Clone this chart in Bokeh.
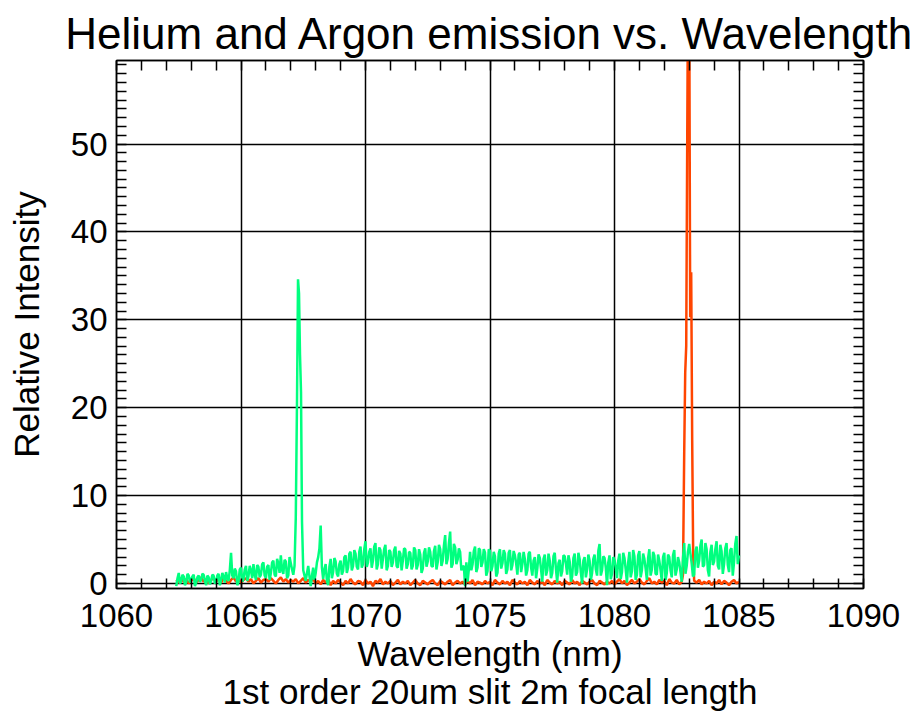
import numpy as np
from bokeh.plotting import figure
from bokeh.models import LinearAxis, FixedTicker, Range1d, Title
from bokeh.embed import file_html
from bokeh.resources import INLINE

FONT = "Liberation Sans"

# ---------------- data ----------------
x_ticks = [1060, 1065, 1070, 1075, 1080, 1085, 1090]
x_minor = [1060 + i for i in range(31)]
y_ticks = [0, 10, 20, 30, 40, 50]
y_minor = list(range(0, 60))
sample_step = 0.1  # nm

# Argon (green) spectrum: samples on the 0.1 nm grid ...
argon_a_start = 1062.4
argon_a = [-0.3, 1.2, 0.3, 0.8, 0.2, 0.9,
           0.5, 1.0, 0.1, 0.9, 0.4, 1.0, -0.2, 0.7, 0.3, 0.9,
           0.2, 1.1, 0.4, 0.8, 1.3, 0.3, 3.5, 0.6, 1.4, 0.2,
           1.8, 0.5, 2.0, 0.8, 1.5, 2.2, 0.4, 1.9, 1.0, 2.4,
           0.6, 2.1, 1.2, 2.6, 0.8, 2.3, 3.2, 1.1, 2.5, 0.9,
           2.3, 1.0]
# ... and the samples half-way between them
argon_a_mid = [0.6, 0.0, 1.0, -0.2, 1.1, 0.1,
               0.8, -0.3, 0.7, 0.2, 1.1, 0.3, 0.9, -0.1, 1.0, 0.0,
               0.9, -0.2, 1.2, 0.1, 0.6, 1.5, 0.9, 1.7, -0.2, 1.6,
               0.2, 1.6, 0.3, 2.0, 0.6, 1.0, 2.1, 0.7, 2.2, 0.9,
               1.9, 0.4, 2.4, 1.0, 2.8, 1.2, 1.5, 2.7, 0.6, 3.0,
               1.6]
argon_peak_wl = [1067.15, 1067.2, 1067.25, 1067.29, 1067.33, 1067.37, 1067.41, 1067.45, 1067.5]
argon_peak = [2.0, 7.5, 21.0, 34.6, 33.0, 26.0, 21.8, 7.0, 1.5]
argon_b_start = 1067.6
argon_b = [0.3, 2.0, -0.3, 1.8,
           1.2, 3.0, 6.6, 0.5, 2.2, -0.2, 2.8, 1.3, 2.5, 0.8,
           2.6, 1.4, 3.2, 1.8, 3.6, 2.0, 3.4, 1.6, 4.2, 2.2,
           4.8, 2.4, 4.0, 2.6, 4.6, 2.2, 3.8, 2.8, 4.4, 2.0,
           3.6, 2.4, 4.2, 1.8, 3.4, 2.6, 3.9, 2.2, 3.5, 2.0,
           3.8, 2.1, 3.3, 1.7, 4.0, 2.5, 3.6, 1.9, 4.3, 2.4,
           3.9, 2.6, 5.5, 2.8, 5.9, 2.2, 4.1, 2.7, 3.6, 1.9,
           -0.3, 0.2, 3.6, 2.2, 4.2, 1.8, 3.8, 2.4, 3.5, 1.4,
           3.7, 2.0, 3.1, 1.2, 3.9, 2.3, 3.4, 1.6, 3.8, 2.1,
           3.2, 1.0, 3.5, 2.2, 2.8, 1.5, 3.6, 0.9, 3.0, 1.7,
           2.9, 0.2, 3.3, 1.5, 2.6, 1.2, 3.5, 0.1, 2.7, 1.4,
           3.1, 1.0, 2.5, 0.8, 3.4, 1.3, 2.8, 0.0, 3.0, 1.6,
           2.6, 1.2, 3.3, 0.9, 4.5, 1.5, 2.9, -0.2, 3.2, 1.1,
           2.7, 0.6, 3.4, 1.3, 2.9, 0.1, 3.6, 1.4, 3.1, 1.0,
           3.7, 1.5, 2.8, 0.4, 3.9, 1.6, 3.2, 1.0, 2.6, 0.3,
           3.5, 1.2, 3.0, 0.7, 3.8, 1.6, 2.4, 0.2, 4.6, 2.0,
           4.5, 2.3, 1.0, 4.2, 2.6, 5.0, 2.1, 3.9, 0.8, 4.4,
           2.5, 4.8, 1.6, 3.7, 2.2, 4.6, 1.3, 4.0, 2.4, 5.4,
           3.2]
argon_b_mid = [1.2, 0.8, 0.9, 0.4,
               2.4, 4.0, 1.8, 1.6, 0.3, 1.9, 0.6, 2.9, 1.1, 2.2,
               1.0, 3.0, 1.2, 3.4, 1.5, 3.8, 1.9, 3.6, 1.8, 3.9,
               1.9, 3.6, 1.8, 4.2, 1.6, 4.1, 1.7, 3.9, 1.5, 3.8,
               1.9, 3.8, 2.0, 3.7, 1.5, 4.0, 1.7, 3.6, 1.6, 4.1,
               1.6, 3.9, 1.2, 3.5, 1.9, 4.1, 2.0, 3.7, 1.6, 4.4,
               2.0, 4.3, 2.2, 4.6, 1.8, 4.5, 2.2, 4.0, 1.5, 2.0,
               2.4, 1.6, 1.5, 3.7, 1.3, 4.0, 1.9, 3.9, 0.9, 3.9,
               1.4, 3.6, 0.8, 3.4, 1.7, 3.8, 1.1, 3.5, 1.5, 3.7,
               2.3, 3.3, 1.3, 3.6, 0.9, 3.4, 1.8, 2.6, 0.6, 3.3,
               1.6, 2.8, 0.9, 3.4, 0.6, 3.1, 1.6, 2.3, 0.8, 3.2,
               2.2, 3.2, 0.2, 2.9, 0.9, 3.5, 1.2, 2.6, 0.7, 3.3,
               0.4, 2.8, 1.6, 3.7, 0.9, 3.1, 1.8, 2.4, 0.5, 3.0,
               1.8, 2.6, 0.5, 3.5, 1.6, 2.4, 0.7, 3.8, 0.4, 3.2,
               0.7, 3.4, 1.7, 2.9, 0.9, 3.6, 1.1, 3.3, 1.5, 3.0,
               0.4, 3.3, 1.5, 3.2, 0.9, 3.0, 1.3, 2.9, 1.1, 3.6,
               3.4, 0.8, 3.7, 1.8, 4.3, 1.9, 4.6, 1.5, 3.6, 2.1,
               3.9, 2.0, 4.4, 1.1, 4.0, 2.1, 3.8, 0.9, 4.5, 2.2]

# Helium (red) spectrum
helium_a_start = 1062.4
helium_a = [0.4, 0.1, 0.6, 0.2, 0.5, 0.0,
            0.3, 0.6, 0.1, 0.4, 0.7, 0.2, 0.5, 0.0, 0.4, 0.6,
            0.2, 0.5, 0.1, 0.6, 0.3, 0.0, 0.4, 0.7, 0.2, 0.5,
            0.1, 0.4, 0.6, 0.2, 0.5, 0.0, 0.3, 0.6, 0.1, 0.4,
            0.5, 0.2, 0.6, 0.3, 0.0, 0.4, 0.7, 0.2, 0.5, 0.1,
            0.4, 0.2, 0.5, 0.0, 0.3, 0.6, 0.1, 0.4, 0.2, 0.5,
            0.0, 0.3, -0.1, 0.4, 0.1, 0.5, -0.2, 0.3, 0.0, 0.4,
            0.1, -0.2, 0.3, 0.0, 0.5, 0.1, -0.1, 0.3, 0.2, -0.2,
            0.4, 0.0, 0.2, -0.3, 0.3, 0.1, 0.5, -0.1, 0.2, 0.0,
            0.3, -0.2, 0.1, 0.4, -0.1, 0.2, 0.0, 0.3, -0.2, 0.1,
            0.4, 0.0, -0.2, 0.3, 0.1, -0.1, 0.2, 0.4, 0.0, -0.2,
            0.3, 0.1, -0.1, 0.2, 0.4, -0.2, 0.1, 0.3, 0.0, 0.2,
            -0.1, 0.3, 0.0, 0.4, -0.2, 0.2, 0.1, -0.1, 0.3, 0.0,
            0.2, -0.2, 0.4, 0.1, -0.1, 0.3, 0.0, 0.2, -0.2, 0.4,
            0.1, -0.1, 0.3, 0.0, 0.2, -0.2, 0.4, 0.1, -0.1, 0.3,
            0.0, 0.2, -0.2, 0.4, 0.1, -0.1, 0.3, 0.0, 0.2, -0.2,
            0.3, 0.1, -0.1, 0.4, 0.0, 0.2, -0.2, 0.3, 0.1, -0.1,
            0.2, 0.4, 0.0, -0.2, 0.3, 0.1, -0.1, 0.2, 0.0, 0.3,
            -0.1, 0.2, 0.5, 0.0, 0.3, -0.2, 0.1, 0.4, 0.0, 0.2,
            0.5, 0.1, -0.1, 0.3, 0.6, 0.0, 0.2, -0.1, 0.4, 0.1,
            0.3, -0.2, 0.5, 0.1, 0.0, 0.4, -0.1, 0.2]
helium_peak_wl = [1082.75, 1082.8, 1082.84, 1082.88, 1082.92, 1082.96, 1083.0,
                  1083.04, 1083.08, 1083.12, 1083.16, 1083.2]
helium_peak = [1.0, 15.0, 24.0, 27.0, 50.0, 72.0, 68.0, 30.3, 35.4, 16.3, 3.0, 0.3]
helium_b_start = 1083.3
helium_b = [0.1, 0.4, -0.1, 0.2, 0.0, 0.3, -0.2,
            0.2, 0.0, 0.4, -0.1, 0.3, 0.1, -0.2, 0.2, 0.4, 0.0,
            0.2]


def sampled(start, vals, step=sample_step):
    return list(start + step * np.arange(len(vals)))


def interleave(main, mid):
    out = []
    for i, v in enumerate(main):
        out.append(v)
        if i < len(mid):
            out.append(mid[i])
    return out


argon_a_all = interleave(argon_a, argon_a_mid)
argon_b_all = interleave(argon_b, argon_b_mid)
argon_wl = (sampled(argon_a_start, argon_a_all, sample_step / 2) + argon_peak_wl
            + sampled(argon_b_start, argon_b_all, sample_step / 2))
argon_int = argon_a_all + argon_peak + argon_b_all
helium_wl = sampled(helium_a_start, helium_a) + helium_peak_wl + sampled(helium_b_start, helium_b)
helium_int = helium_a + helium_peak + helium_b

# ---------------- figure ----------------
p = figure(width=920, height=713, output_backend="svg", toolbar_location=None,
           x_range=Range1d(1060, 1090), y_range=Range1d(-0.57, 59.5),
           min_border_left=116, min_border_right=57, min_border_top=60,
           min_border_bottom=125)
p.background_fill_color = "white"
p.border_fill_color = "white"
p.outline_line_color = "black"
p.outline_line_width = 1.5

p.title.text = "Helium and Argon emission vs. Wavelength"
p.title.text_font = FONT
p.title.text_font_size = "44px"
p.title.text_font_style = "normal"
p.title.text_color = "black"
p.title.align = "center"
p.title.standoff = 6

bx = p.xaxis[0]
ly = p.yaxis[0]
bx.ticker = FixedTicker(ticks=x_ticks, minor_ticks=x_minor)
ly.ticker = FixedTicker(ticks=y_ticks, minor_ticks=y_minor)
p.xgrid.ticker = FixedTicker(ticks=x_ticks)
p.ygrid.ticker = FixedTicker(ticks=y_ticks)
for g in (p.xgrid, p.ygrid):
    g.grid_line_color = "black"
    g.grid_line_width = 1.5
    g.grid_line_alpha = 1.0

# top and right axes carry only the inward minor ticks
top_ax = LinearAxis(ticker=FixedTicker(ticks=[], minor_ticks=x_minor))
right_ax = LinearAxis(ticker=FixedTicker(ticks=[], minor_ticks=y_minor))
p.add_layout(top_ax, "above")
p.add_layout(right_ax, "right")

for ax in (bx, ly, top_ax, right_ax):
    ax.axis_line_color = "black"
    ax.axis_line_width = 1.5
    ax.major_tick_in = 0
    ax.major_tick_out = 0
    ax.minor_tick_in = 10
    ax.minor_tick_out = 0
    ax.minor_tick_line_color = "black"
    ax.minor_tick_line_width = 1.5
    ax.major_label_text_font = FONT
    ax.major_label_text_font_size = "33px"
    ax.major_label_text_color = "black"
    ax.axis_label_text_font = FONT
    ax.axis_label_text_font_size = "35px"
    ax.axis_label_text_font_style = "normal"
    ax.axis_label_text_color = "black"

for ax in (top_ax, right_ax):
    ax.major_label_standoff = 0

bx.axis_label = "Wavelength (nm)"
bx.major_label_standoff = 15
bx.axis_label_standoff = 4
ly.axis_label = "Relative Intensity"
ly.major_label_standoff = 9
ly.axis_label_standoff = 22

sub = Title(text="1st order 20um slit 2m focal length", align="center",
            text_font=FONT, text_font_size="35px", text_font_style="normal",
            text_color="black", standoff=-12)
p.add_layout(sub, "below")

p.line(helium_wl, helium_int, line_color="#FF4500", line_width=2.5)
p.line(argon_wl, argon_int, line_color="#00FF7F", line_width=2.5)

open("out.html", "w").write(file_html(p, INLINE))
